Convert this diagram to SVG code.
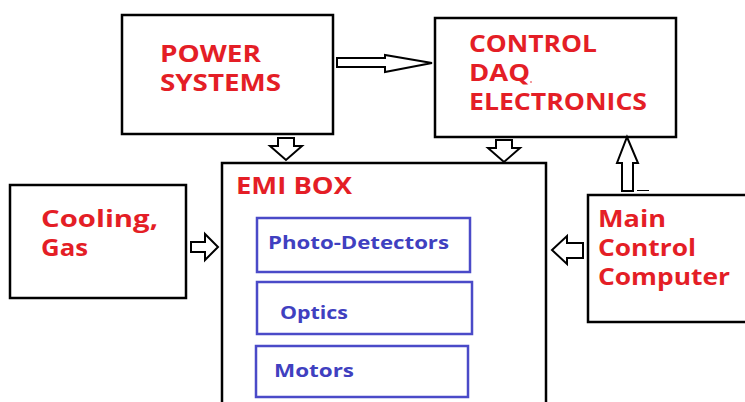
<svg xmlns="http://www.w3.org/2000/svg" width="745" height="402" viewBox="0 0 745 402">
<style>
.box{fill:#fff;stroke:#000;stroke-width:2.5}
.ibox{fill:#fff;stroke:#4a4ac8;stroke-width:2.5}
.arr{fill:#fff;stroke:#000;stroke-width:2;stroke-linejoin:miter}
.rt{font-family:"Open Sans","Liberation Sans",sans-serif;font-weight:700;fill:#e41e26;font-size:23px}
.bt{font-family:"Open Sans","Liberation Sans",sans-serif;font-weight:700;fill:#4040c0;font-size:18px}
</style>
<rect width="745" height="402" fill="#fff"/>
<g id="power">
<rect class="box" x="122" y="15" width="211" height="119"/>
<text class="rt" x="160" y="62" textLength="101" lengthAdjust="spacingAndGlyphs">POWER</text>
<text class="rt" x="160" y="91" textLength="121" lengthAdjust="spacingAndGlyphs">SYSTEMS</text>
</g>
<g id="control">
<rect class="box" x="435" y="18" width="241" height="119"/>
<text class="rt" x="469" y="52" textLength="128" lengthAdjust="spacingAndGlyphs">CONTROL</text>
<text class="rt" x="469" y="81" textLength="61" lengthAdjust="spacingAndGlyphs">DAQ</text>
<circle cx="531" cy="82" r="0.8" fill="#e41e26"/>
<text class="rt" x="469" y="110" textLength="178" lengthAdjust="spacingAndGlyphs">ELECTRONICS</text>
</g>
<g id="emi">
<rect class="box" x="222" y="163" width="324" height="245"/>
<text class="rt" x="236" y="194" textLength="116" lengthAdjust="spacingAndGlyphs">EMI BOX</text>
</g>
<g id="photodetectors">
<rect class="ibox" x="257" y="218" width="213" height="54"/>
<text class="bt" x="268" y="249" textLength="181" lengthAdjust="spacingAndGlyphs">Photo-Detectors</text>
</g>
<g id="optics">
<rect class="ibox" x="257" y="282" width="215" height="52"/>
<text class="bt" x="280" y="319" textLength="68" lengthAdjust="spacingAndGlyphs">Optics</text>
</g>
<g id="motors">
<rect class="ibox" x="256" y="346" width="212" height="51"/>
<text class="bt" x="274" y="377" textLength="80" lengthAdjust="spacingAndGlyphs">Motors</text>
</g>
<g id="cooling">
<rect class="box" x="10" y="185" width="176" height="113"/>
<text class="rt" x="41" y="227" textLength="117" lengthAdjust="spacingAndGlyphs">Cooling,</text>
<text class="rt" x="41" y="256" textLength="47" lengthAdjust="spacingAndGlyphs">Gas</text>
</g>
<g id="maincomputer">
<rect class="box" x="588" y="195" width="170" height="127"/>
<text class="rt" x="598" y="227" textLength="68" lengthAdjust="spacingAndGlyphs">Main</text>
<text class="rt" x="598" y="256" textLength="98" lengthAdjust="spacingAndGlyphs">Control</text>
<text class="rt" x="598" y="285" textLength="132" lengthAdjust="spacingAndGlyphs">Computer</text>
</g>
<g id="connectors">
<path class="arr" d="M337,58 H385 V55 L432,63 L385,72 V67 H337 Z"/>
<path class="arr" d="M278,138 H294 V146 H302 L286,160 L270,146 H278 Z"/>
<path class="arr" d="M496,140 H512 V148 H520 L504,162 L488,148 H496 Z"/>
<path class="arr" d="M191,242 H205 V234 L218,247 L205,260 V252 H191 Z"/>
<path class="arr" d="M583,243 H567 V236 L552,250 L567,264 V258 H583 Z"/>
<path class="arr" d="M622,191 V163 H617 L627,137 L638,163 H633 V191 Z"/>
<line x1="637" y1="190.5" x2="649" y2="190.5" stroke="#000" stroke-width="1"/>
</g>
</svg>
